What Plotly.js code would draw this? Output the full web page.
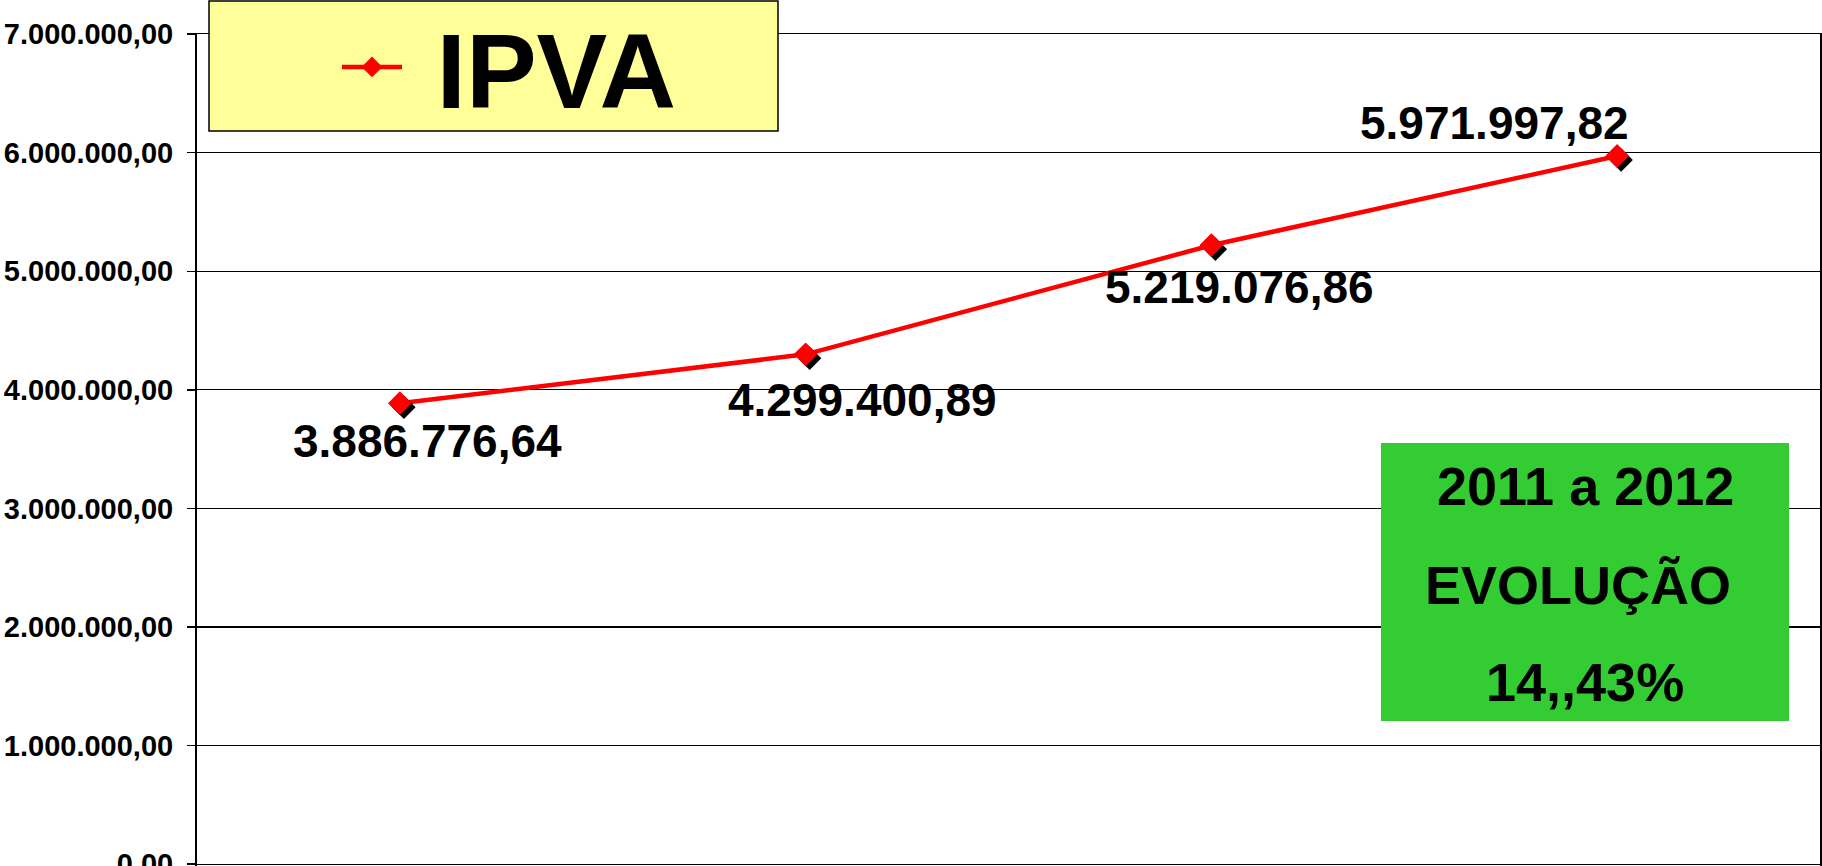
<!DOCTYPE html>
<html>
<head>
<meta charset="utf-8">
<script src="https://cdn.plot.ly/plotly-3.0.1.min.js"></script>
<style>
html,body{margin:0;padding:0;background:#ffffff;overflow:hidden}
#chart{width:1822px;height:866px}
</style>
</head>
<body>
<div id="chart"></div>
<script>
// ---- data ----
const years = ['2009', '2010', '2011', '2012'];
const ipva = [3886776.64, 4299400.89, 5219076.86, 5971997.82];
const seriesName = 'IPVA';
const tickValues = [0, 1000000, 2000000, 3000000, 4000000, 5000000, 6000000, 7000000];
const tickLabels = ['0,00', '1.000.000,00', '2.000.000,00', '3.000.000,00', '4.000.000,00', '5.000.000,00', '6.000.000,00', '7.000.000,00'];
const boxLines = ['2011 a 2012', 'EVOLUÇÃO', '14,,43%'];

// ---- styling / placement (not data) ----
const FONT = 'Liberation Sans, Arial, Helvetica, sans-serif';
const labelOffsets = [[28, -38], [57, -46], [28, -42], [-123, 33]];
const W = 1822, H = 866;
const M = {l: 197, r: 2, t: 34, b: 0};
const plotW = W - M.l - M.r, plotH = H - M.t - M.b;
const yRange = [-15000, 7000500];
const ySpan = yRange[1] - yRange[0];
const shadowPx = 4;
const sx = shadowPx * years.length / plotW;
const sy = shadowPx * ySpan / plotH;
const px = v => (v - M.l) / plotW;
const py = v => (H - M.b - v) / plotH;

function fmtBR(v) {
  const parts = v.toFixed(2).split('.');
  const intPart = parts[0].replace(/\B(?=(\d{3})+(?!\d))/g, '.');
  return intPart + ',' + parts[1];
}

const main = {
  x: years, y: ipva,
  type: 'scatter', mode: 'lines+markers', name: '\u00A0' + seriesName,
  line: {color: '#FF0000', width: 4.5},
  marker: {symbol: 'diamond', size: 18, color: '#FF0000'}
};
const shadow = {
  x: years, y: ipva, xaxis: 'x2', yaxis: 'y2',
  type: 'scatter', mode: 'markers',
  marker: {symbol: 'diamond', size: 18, color: '#000000'},
  showlegend: false, hoverinfo: 'skip'
};
const topMarkers = {
  x: years, y: ipva, xaxis: 'x3', yaxis: 'y3',
  type: 'scatter', mode: 'markers',
  marker: {symbol: 'diamond', size: 18, color: '#FF0000'},
  showlegend: false, hoverinfo: 'skip'
};

// category axis positions are given by index (numeric-looking category names)
const annotations = ipva.map((v, i) => ({
  x: i, y: v, xref: 'x', yref: 'y',
  text: fmtBR(v), showarrow: false,
  xanchor: 'center', yanchor: 'middle',
  xshift: labelOffsets[i][0], yshift: labelOffsets[i][1],
  font: {family: FONT, size: 46, color: '#000000', weight: 'bold'}
}));
const boxCenters = [[1585, 486], [1578, 585], [1585, 682]];
boxLines.forEach((t, i) => {
  annotations.push({
    x: px(boxCenters[i][0]), y: py(boxCenters[i][1]), xref: 'paper', yref: 'paper',
    text: t, showarrow: false, xanchor: 'center', yanchor: 'middle',
    font: {family: FONT, size: 54, color: '#000000', weight: 'bold'}
  });
});

const catAxis = {
  type: 'category', categoryorder: 'array', categoryarray: years,
  showgrid: false, zeroline: false, showline: false, ticks: '', showticklabels: false
};

const layout = {
  width: W, height: H,
  margin: {l: M.l, r: M.r, t: M.t, b: M.b, pad: 0, autoexpand: false},
  paper_bgcolor: '#ffffff', plot_bgcolor: '#ffffff',
  font: {family: FONT, color: '#000000'},
  showlegend: true,
  legend: {
    x: px(337), y: py(67), xanchor: 'left', yanchor: 'middle',
    bgcolor: 'rgba(0,0,0,0)', borderwidth: 0, itemwidth: 60,
    font: {family: FONT, size: 106, color: '#000000', weight: 'bold'}
  },
  xaxis: Object.assign({}, catAxis, {range: [-0.5, years.length - 0.5],
    side: 'top', showline: true, linecolor: '#000000', linewidth: 1.5}),
  xaxis2: Object.assign({}, catAxis, {overlaying: 'x', visible: false, range: [-0.5 - sx, years.length - 0.5 - sx]}),
  xaxis3: Object.assign({}, catAxis, {overlaying: 'x', visible: false, range: [-0.5, years.length - 0.5]}),
  yaxis: {
    range: yRange, tickmode: 'array', tickvals: tickValues, ticktext: tickLabels,
    showgrid: true, gridcolor: '#000000', gridwidth: 1.2, zeroline: false,
    showline: true, linecolor: '#000000', linewidth: 2, mirror: true,
    ticks: 'outside', ticklen: 8, tickwidth: 1.5, tickcolor: '#000000',
    ticklabelstandoff: 8, ticklabeloverflow: 'allow',
    tickfont: {family: FONT, size: 29, color: '#000000', weight: 'bold'}
  },
  yaxis2: {overlaying: 'y', visible: false, range: [yRange[0] + sy, yRange[1] + sy], showgrid: false, zeroline: false},
  yaxis3: {overlaying: 'y', visible: false, range: yRange, showgrid: false, zeroline: false},
  shapes: [
    {type: 'rect', xref: 'paper', yref: 'paper', layer: 'above',
     x0: px(209), x1: px(778), y0: py(131), y1: py(1),
     fillcolor: '#FFFF99', line: {color: '#000000', width: 1.5}},
    {type: 'rect', xref: 'paper', yref: 'paper', layer: 'above',
     x0: px(1381), x1: px(1789), y0: py(721), y1: py(443),
     fillcolor: '#33CC33', line: {width: 0}}
  ],
  annotations: annotations
};

Plotly.newPlot('chart', [main, shadow, topMarkers], layout, {staticPlot: true, displayModeBar: false});
</script>
</body>
</html>
